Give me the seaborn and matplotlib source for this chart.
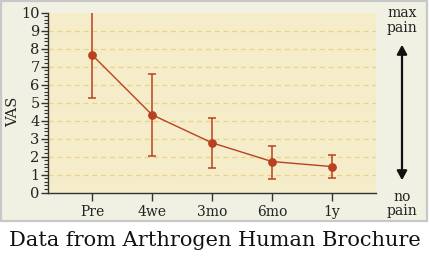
import matplotlib
matplotlib.use("Agg")
import matplotlib.pyplot as plt
import seaborn as sns
import pandas as pd
from matplotlib.patches import Rectangle, FancyArrowPatch
from matplotlib.ticker import MultipleLocator

categories = ["Pre", "4we", "3mo", "6mo", "1y"]
vas_mean = [7.65, 4.32, 2.76, 1.72, 1.44]
vas_upper = [10.3, 6.59, 4.15, 2.57, 2.09]
vas_lower = [5.26, 2.05, 1.37, 0.76, 0.83]
y_ticks = [0, 1, 2, 3, 4, 5, 6, 7, 8, 9, 10]

sns.set_theme(style="white")
plt.rcParams['font.family'] = ['DejaVu Serif']

red = "#b8421f"
fig = plt.figure(figsize=(4.30, 2.58), dpi=100)
fig.patch.set_facecolor("white")

bg = fig.add_axes([0, 0, 1, 1], zorder=-5)
bg.set_xlim(0, 430)
bg.set_ylim(258, 0)
bg.axis("off")
bg.add_patch(Rectangle((1, 1), 426, 220, facecolor="#f0f0e3", edgecolor="#c8c8c8", linewidth=1.6))

ax = fig.add_axes([48 / 430, 1 - 192.5 / 258, (376 - 48) / 430, (192.5 - 12.5) / 258], zorder=1)
ax.set_facecolor("#f5ecc9")

df = pd.DataFrame({"x": range(len(categories)), "vas": vas_mean})
yerr = [[m - l for m, l in zip(vas_mean, vas_lower)], [u - m for m, u in zip(vas_mean, vas_upper)]]
ax.errorbar(df["x"], df["vas"], yerr=yerr, fmt="none", ecolor=red, elinewidth=1.1,
            capsize=3.0, capthick=1.1, zorder=3, clip_on=True)
sns.lineplot(data=df, x="x", y="vas", ax=ax, color=red, linewidth=1.0, marker="o",
             markersize=6.3, markeredgewidth=0, zorder=4)

ax.set_xlim(-0.733, 4.733)
ax.set_ylim(0, 10)
ax.set_xticks(range(len(categories)))
ax.set_xticklabels(categories, fontsize=10, color="#222222")
ax.set_yticks(y_ticks)
ax.set_yticklabels([str(t) for t in y_ticks], fontsize=10.5, color="#222222")
ax.yaxis.set_minor_locator(MultipleLocator(0.2))
ax.set_xlabel("")
ax.set_ylabel("")
for t in y_ticks[1:-1]:
    ax.axhline(t, color="#ebd386", linestyle=(0, (4, 3)), linewidth=0.9, zorder=1)

for s in ["top", "right"]:
    ax.spines[s].set_visible(False)
for s in ["left", "bottom"]:
    ax.spines[s].set_color("#333333")
    ax.spines[s].set_linewidth(1.0)
ax.tick_params(axis="y", which="major", direction="out", length=5, width=1, color="#333333", pad=1, left=True)
ax.tick_params(axis="y", which="minor", direction="out", length=3, width=0.8, color="#333333", left=True)
ax.tick_params(axis="x", which="major", direction="out", length=6, width=1, color="#333333", pad=3, bottom=True)

bg.text(13, 112, "VAS", rotation=90, ha="center", va="center", fontsize=10.5, color="#222222")

ax_x = 402
txt = dict(ha="center", va="center", fontsize=10, color="#222222")
bg.text(ax_x, 13, "max", **txt)
bg.text(ax_x, 28, "pain", **txt)
bg.text(ax_x, 197, "no", **txt)
bg.text(ax_x, 211, "pain", **txt)
bg.add_patch(FancyArrowPatch((ax_x, 42), (ax_x, 183),
             arrowstyle="<|-|>,head_length=5.5,head_width=3", color="#111111", linewidth=1.6))

bg.text(215, 241, "Data from Arthrogen Human Brochure", ha="center", va="center",
        fontsize=15, color="#111111")

fig.savefig("out.png", dpi=100)
